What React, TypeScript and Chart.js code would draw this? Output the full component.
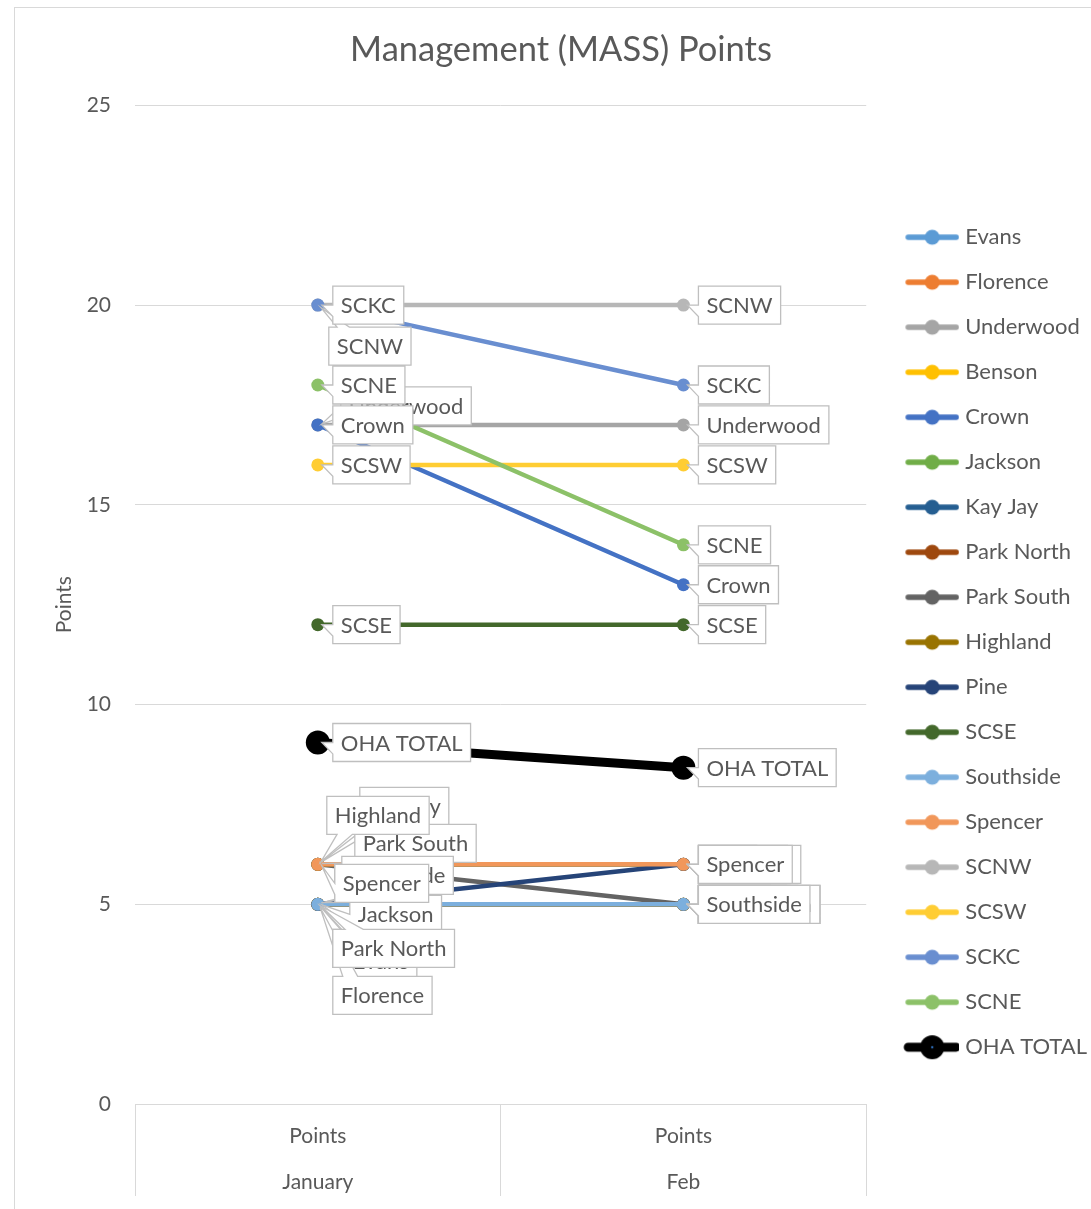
import React, { useEffect, useRef } from "react";
import { Chart, registerables } from "chart.js";

Chart.register(...registerables);

// ---------------- DATA ----------------
const categories = [
  ["Points", "January"],
  ["Points", "Feb"],
];
const seriesNames = [
  "Evans", "Florence", "Underwood", "Benson", "Crown", "Jackson", "Kay Jay",
  "Park North", "Park South", "Highland", "Pine", "SCSE", "Southside",
  "Spencer", "SCNW", "SCSW", "SCKC", "SCNE", "OHA TOTAL",
];
const evans = [5, 5];
const florence = [5, 5];
const underwood = [17, 17];
const benson = [5, 5];
const crown = [17, 13];
const jackson = [5, 5];
const kayJay = [6, 6];
const parkNorth = [5, 5];
const parkSouth = [6, 5];
const highland = [6, 6];
const pine = [5, 6];
const scse = [12, 12];
const southside = [5, 5];
const spencer = [6, 6];
const scnw = [20, 20];
const scsw = [16, 16];
const sckc = [20, 18];
const scne = [18, 14];
const ohaTotal = [9.05, 8.42];
const yTickValues = [0, 5, 10, 15, 20, 25];

const seriesValues = [
  evans, florence, underwood, benson, crown, jackson, kayJay, parkNorth,
  parkSouth, highland, pine, scse, southside, spencer, scnw, scsw, sckc,
  scne, ohaTotal,
];

// ---------------- STYLES ----------------
const seriesColors = [
  "#5B9BD5", "#ED7D31", "#A5A5A5", "#FFC000", "#4472C4", "#70AD47", "#255E91",
  "#9E480E", "#636363", "#997300", "#264478", "#43682B", "#7CAFDD", "#F1975A",
  "#B7B7B7", "#FFCD33", "#698ED0", "#8CC168", "#000000",
];
const FONT = "Lato, 'Open Sans', sans-serif";
const TEXT = "#595959";
const GRID = "#D9D9D9";
const LABEL_SIZE = 22;
const BOX_H = 38;
const PAD_X = 8;
const PAD_LEFT = 25;
const DEFAULT_OFFSET: [number, number] = [15, 0];
// label box offsets (box left, box centre) relative to each point: [January, Feb]
const labelOffsets: Record<string, [number, number][]> = {
  SCNW: [[11, 41], DEFAULT_OFFSET],
  Underwood: [[23, -19], DEFAULT_OFFSET],
  "Kay Jay": [[42, -58], DEFAULT_OFFSET],
  Highland: [[9, -49], DEFAULT_OFFSET],
  "Park South": [[37, -21], DEFAULT_OFFSET],
  Southside: [[24, -29], DEFAULT_OFFSET],
  Spencer: [[17, 19], DEFAULT_OFFSET],
  Jackson: [[32, 10], DEFAULT_OFFSET],
  "Park North": [[15, 44], DEFAULT_OFFSET],
  Evans: [[27, 57], DEFAULT_OFFSET],
  Florence: [[15, 91], DEFAULT_OFFSET],
  Pine: [[17, -21], DEFAULT_OFFSET],
  Benson: [[15, 44], DEFAULT_OFFSET],
};

const calloutPlugin = {
  id: "callouts",
  afterDatasetsDraw(chart: any) {
    const ctx = chart.ctx as CanvasRenderingContext2D;
    ctx.save();
    ctx.font = `${LABEL_SIZE}px ${FONT}`;
    ctx.textBaseline = "middle";
    ctx.textAlign = "center";
    chart.data.datasets.forEach((ds: any, di: number) => {
      const meta = chart.getDatasetMeta(di);
      meta.data.forEach((pt: any, j: number) => {
        const offs = (labelOffsets[ds.label] || [])[j] || DEFAULT_OFFSET;
        const text = ds.label as string;
        const w = ctx.measureText(text).width + 2 * PAD_X;
        const h = BOX_H;
        const x0 = pt.x + offs[0];
        const y0 = pt.y + offs[1] - h / 2;
        const cx = x0 + w / 2;
        const cy = y0 + h / 2;
        const vx = cx - pt.x;
        const vy = cy - pt.y;
        const len = Math.hypot(vx, vy) || 1;
        const ax = pt.x + (vx / len) * 4;
        const ay = pt.y + (vy / len) * 4;
        let side = "left";
        if (ay > y0 + h) side = "bottom";
        else if (ay < y0) side = "top";
        ctx.beginPath();
        ctx.moveTo(x0, y0);
        if (side === "top") {
          ctx.lineTo(x0 + w * 0.1, y0);
          ctx.lineTo(ax, ay);
          ctx.lineTo(x0 + w * 0.25, y0);
        }
        ctx.lineTo(x0 + w, y0);
        ctx.lineTo(x0 + w, y0 + h);
        if (side === "bottom") {
          ctx.lineTo(x0 + w * 0.25, y0 + h);
          ctx.lineTo(ax, ay);
          ctx.lineTo(x0 + w * 0.1, y0 + h);
        }
        ctx.lineTo(x0, y0 + h);
        if (side === "left") {
          ctx.lineTo(x0, y0 + h * 0.8);
          ctx.lineTo(ax, ay);
          ctx.lineTo(x0, y0 + h * 0.5);
        }
        ctx.closePath();
        ctx.fillStyle = "#FFFFFF";
        ctx.fill();
        ctx.lineWidth = 1.3;
        ctx.strokeStyle = "#BFBFBF";
        ctx.lineJoin = "miter";
        ctx.stroke();
        ctx.fillStyle = TEXT;
        ctx.fillText(text, cx, cy + 1);
      });
    });
    ctx.restore();
  },
};

// legend icon: transparent margin on the left keeps a gap between plot and legend
const ICON_MARGIN = 21;
function makeLegendIcon(color: string, thick: boolean) {
  const c = document.createElement("canvas");
  c.width = 54 + ICON_MARGIN;
  c.height = 28;
  const g = c.getContext("2d")!;
  g.strokeStyle = color;
  g.fillStyle = color;
  g.lineCap = "round";
  g.lineWidth = thick ? 9 : 5.5;
  g.beginPath();
  g.moveTo(ICON_MARGIN + 3, 14);
  g.lineTo(ICON_MARGIN + 51, 14);
  g.stroke();
  g.beginPath();
  g.arc(ICON_MARGIN + 27, 14, thick ? 12 : 7.5, 0, Math.PI * 2);
  g.fill();
  if (thick) {
    g.fillStyle = "#2F6EBA";
    g.beginPath();
    g.arc(ICON_MARGIN + 27, 14, 1.2, 0, Math.PI * 2);
    g.fill();
  }
  return c;
}

export default function App() {
  const ref = useRef<HTMLCanvasElement>(null);
  useEffect(() => {
    const icons = seriesNames.map((n, i) =>
      makeLegendIcon(seriesColors[i], n === "OHA TOTAL")
    );
    const N = seriesNames.length;
    const chart = new Chart(ref.current!, {
      type: "line",
      data: {
        labels: categories,
        datasets: seriesNames.map((name, i) => {
          const thick = name === "OHA TOTAL";
          return {
            label: name,
            data: seriesValues[i],
            borderColor: seriesColors[i],
            backgroundColor: seriesColors[i],
            borderWidth: thick ? 9 : 4.5,
            pointRadius: thick ? 12 : 6.5,
            pointBorderWidth: 0,
            pointBackgroundColor: seriesColors[i],
            borderCapStyle: "round",
            borderJoinStyle: "round",
            tension: 0,
            order: N - i,
          } as any;
        }),
      },
      options: {
        responsive: false,
        animation: false,
        layout: { padding: { left: PAD_LEFT, top: 7, right: -6, bottom: 4 } },
        plugins: {
          tooltip: { enabled: false },
          title: {
            display: true,
            text: "Management (MASS) Points",
            color: TEXT,
            font: { family: FONT, size: 34.5, weight: "normal" },
            padding: { top: 22, bottom: 35 },
          },
          legend: {
            position: "right",
            align: "center",
            title: { display: true, text: "", padding: { top: 29, bottom: 29 } },
            labels: {
              usePointStyle: true,
              pointStyleWidth: 65,
              padding: 23,
              color: TEXT,
              font: { family: FONT, size: 22 },
              sort: (a: any, b: any) => a.datasetIndex - b.datasetIndex,
              generateLabels: (ch: any) => {
                const items = Chart.defaults.plugins.legend.labels.generateLabels(ch);
                return items.map((it: any) => ({
                  ...it,
                  pointStyle: icons[it.datasetIndex],
                  fontColor: TEXT,
                }));
              },
            },
          },
        },
        scales: {
          x: {
            type: "category",
            offset: true,
            grid: {
              offset: true,
              drawOnChartArea: false,
              drawTicks: true,
              tickLength: 92,
              color: GRID,
            },
            border: { display: true, color: GRID },
            ticks: {
              color: TEXT,
              font: { family: FONT, size: 21, lineHeight: 46 / 21 },
              padding: -83,
              maxRotation: 0,
              minRotation: 0,
              autoSkip: false,
            },
            afterFit: (s: any) => {
              s.height = 101;
            },
          },
          y: {
            min: 0,
            max: 25,
            afterBuildTicks: (s: any) => {
              s.ticks = yTickValues.map((v) => ({ value: v }));
            },
            afterFit: (s: any) => {
              s.width = 135 - PAD_LEFT;
            },
            ticks: {
              color: TEXT,
              font: { family: FONT, size: 21 },
              padding: 24,
            },
            grid: { color: GRID, drawTicks: false },
            border: { display: false },
            title: {
              display: true,
              text: "Points",
              color: TEXT,
              font: { family: FONT, size: 21 },
              padding: { top: 27, bottom: 0 },
            },
          },
        },
      } as any,
      plugins: [calloutPlugin],
    });
    return () => chart.destroy();
  }, []);

  return (
    <div
      style={{
        position: "absolute",
        left: 0,
        top: 0,
        width: 1091,
        height: 1209,
        overflow: "hidden",
        background: "#FFFFFF",
      }}
    >
      <div
        style={{
          position: "absolute",
          left: 14,
          top: 7,
          width: 1120,
          height: 1240,
          border: `1px solid ${GRID}`,
          boxSizing: "border-box",
        }}
      />
      <canvas
        ref={ref}
        width={1091}
        height={1209}
        style={{ position: "absolute", left: 0, top: 0 }}
      />
    </div>
  );
}
